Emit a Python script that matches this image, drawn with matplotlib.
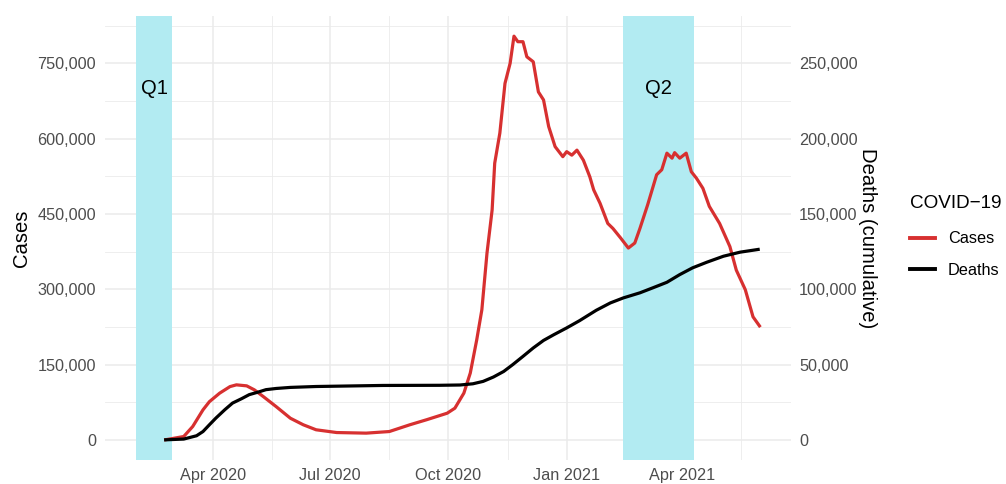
import matplotlib
matplotlib.use("Agg")
from matplotlib import pyplot as plt
import matplotlib.dates as mdates
from matplotlib.ticker import FuncFormatter, FixedLocator
import pandas as pd
import numpy as np

plt.rcParams['font.family'] = ['Liberation Sans', 'DejaVu Sans']

# active cases
case_dates = ["2020-02-24", "2020-03-09", "2020-03-16", "2020-03-24", "2020-03-29",
              "2020-04-06", "2020-04-14", "2020-04-19", "2020-04-27", "2020-05-03",
              "2020-05-10", "2020-05-20", "2020-05-31", "2020-06-10", "2020-06-20",
              "2020-07-06", "2020-07-29", "2020-08-16", "2020-09-01", "2020-09-14",
              "2020-09-30", "2020-10-06", "2020-10-13", "2020-10-18", "2020-10-23",
              "2020-10-27", "2020-10-31", "2020-11-04", "2020-11-06", "2020-11-10",
              "2020-11-14", "2020-11-18", "2020-11-21", "2020-11-24", "2020-11-28",
              "2020-12-01", "2020-12-06", "2020-12-10", "2020-12-14", "2020-12-18",
              "2020-12-23", "2020-12-29", "2021-01-01", "2021-01-05", "2021-01-09",
              "2021-01-14", "2021-01-19", "2021-01-22", "2021-01-27", "2021-02-02",
              "2021-02-06", "2021-02-12", "2021-02-18", "2021-02-23", "2021-02-27",
              "2021-03-05", "2021-03-12", "2021-03-16", "2021-03-20", "2021-03-24",
              "2021-03-26", "2021-03-30", "2021-04-04", "2021-04-08", "2021-04-12",
              "2021-04-17", "2021-04-22", "2021-04-30", "2021-05-08", "2021-05-13",
              "2021-05-20", "2021-05-26", "2021-05-31"]
cases = [200, 6600, 26500, 59700, 76000,
         93000, 106000, 109500, 107500, 99500,
         86000, 66000, 43000, 30000, 20000,
         14500, 13300, 16500, 30000, 40000,
         53000, 63000, 93000, 133000, 199000,
         259000, 372000, 458000, 551000, 611000,
         710000, 750000, 804000, 793000, 793000,
         763000, 753000, 693000, 677000, 624000,
         584000, 564000, 574000, 567000, 577000,
         557000, 524000, 498000, 471000, 431000,
         421000, 402000, 382000, 392000, 421000,
         468000, 528000, 538000, 571000, 561000,
         572000, 561000, 571000, 534000, 521000,
         501000, 465000, 431000, 385000, 338000,
         299000, 245000, 227000]

# cumulative deaths
death_dates = ["2020-02-24", "2020-03-09", "2020-03-19", "2020-03-24", "2020-03-29",
               "2020-04-03", "2020-04-10", "2020-04-16", "2020-04-23", "2020-04-29",
               "2020-05-06", "2020-05-12", "2020-05-20", "2020-05-31", "2020-06-20",
               "2020-08-11", "2020-09-24", "2020-10-10", "2020-10-20", "2020-10-28",
               "2020-11-05", "2020-11-13", "2020-11-20", "2020-11-28", "2020-12-06",
               "2020-12-14", "2020-12-22", "2021-01-01", "2021-01-11", "2021-01-24",
               "2021-02-04", "2021-02-14", "2021-02-27", "2021-03-09", "2021-03-20",
               "2021-03-30", "2021-04-09", "2021-04-20", "2021-05-03", "2021-05-16",
               "2021-05-30"]
deaths = [7, 500, 2700, 5500, 10000,
          14400, 20000, 24400, 27300, 30000,
          31700, 33300, 34100, 34800, 35400,
          36100, 36200, 36400, 37200, 38800,
          41700, 45400, 49900, 55400, 61000,
          66000, 69800, 74300, 79100, 86000,
          90900, 94200, 97600, 100900, 104600,
          109700, 114200, 117900, 121900, 124600,
          126400]

period_labels = ["Q1", "Q2"]
period_start = ["2020-02-01", "2021-02-14"]
period_end = ["2020-02-29", "2021-04-10"]

case_t = pd.to_datetime(case_dates)
death_t = pd.to_datetime(death_dates)
p_start = pd.to_datetime(period_start)
p_end = pd.to_datetime(period_end)

red = '#d73030'
shade = '#b2ebf2'
grid = '#ebebeb'
txt = '#4d4d4d'

fig = plt.figure(figsize=(10.06, 4.84), dpi=100)
W, H = 1006, 484
ax = fig.add_axes([105 / W, (H - 460) / H, 685.6 / W, 444 / H])
ax2 = ax.twinx()

# limits with ggplot-like 5% expansion
x0 = mdates.date2num(min(p_start.min(), case_t.min()))
x1 = mdates.date2num(max(p_end.max(), case_t.max()))
dx = (x1 - x0) * 0.05
ax.set_xlim(x0 - dx, x1 + dx)
ymax = max(cases)
ax.set_ylim(-0.05 * ymax, 1.05 * ymax)
ax2.set_ylim(-0.05 * ymax / 3, 1.05 * ymax / 3)

for s, e, lab in zip(p_start, p_end, period_labels):
    ax.axvspan(s, e, color=shade, lw=0, zorder=1)
    ax.text(s + (e - s) / 2, 700000, lab, ha='center', va='center',
            fontsize=14.6, color='black', zorder=3)

ax.plot(case_t, cases, color=red, lw=2.3, zorder=4, solid_joinstyle='round')
ax2.plot(death_t, deaths, color='black', lw=2.3, zorder=4, solid_joinstyle='round')

# ticks and grid
majors = pd.date_range("2020-01-01", "2021-07-01", freq="QS")
maj_num = mdates.date2num(majors)
min_num = (maj_num[:-1] + maj_num[1:]) / 2
ax.xaxis.set_major_locator(FixedLocator(maj_num))
ax.xaxis.set_minor_locator(FixedLocator(min_num))
ax.xaxis.set_major_formatter(mdates.DateFormatter('%b %Y'))

ax.yaxis.set_major_locator(FixedLocator(np.arange(0, 800001, 150000)))
ax.yaxis.set_minor_locator(FixedLocator(np.arange(75000, 900001, 150000)))
ax2.yaxis.set_major_locator(FixedLocator(np.arange(0, 250001, 50000)))
comma = FuncFormatter(lambda v, p: f"{v:,.0f}")
ax.yaxis.set_major_formatter(comma)
ax2.yaxis.set_major_formatter(comma)

ax.grid(which='major', color=grid, lw=1.1, zorder=0)
ax.grid(which='minor', color=grid, lw=0.6, zorder=0)
ax.set_axisbelow(True)

for a in (ax, ax2):
    for sp in a.spines.values():
        sp.set_visible(False)
    a.tick_params(which='both', length=0, labelsize=11.7, labelcolor=txt)
ax.tick_params(axis='y', pad=6.5)
ax.tick_params(axis='x', pad=6)
ax2.tick_params(axis='y', pad=6)

ax.set_ylabel('Cases', fontsize=14.6, va='center')
ax.yaxis.set_label_coords((21 - 105) / 685.6, 0.5)
ax2.set_ylabel('Deaths (cumulative)', fontsize=14.6, rotation=270, va='center')
ax2.yaxis.set_label_coords((868 - 105) / 685.6, 0.5)

handles = [plt.Line2D([], [], color=red, lw=2.8),
           plt.Line2D([], [], color='black', lw=2.8)]
leg = fig.legend(handles, ['Cases', 'Deaths'], title='COVID\u221219',
                 loc='upper left', bbox_to_anchor=(910 / W, 1 - 195 / H),
                 frameon=False, fontsize=11.7, title_fontsize=13.6,
                 handlelength=1.55, handletextpad=0.78, labelspacing=1.0,
                 borderaxespad=0, borderpad=0)
leg._legend_box.align = 'left'
leg._legend_box.sep = 14

fig.savefig('out.png', dpi=100)
